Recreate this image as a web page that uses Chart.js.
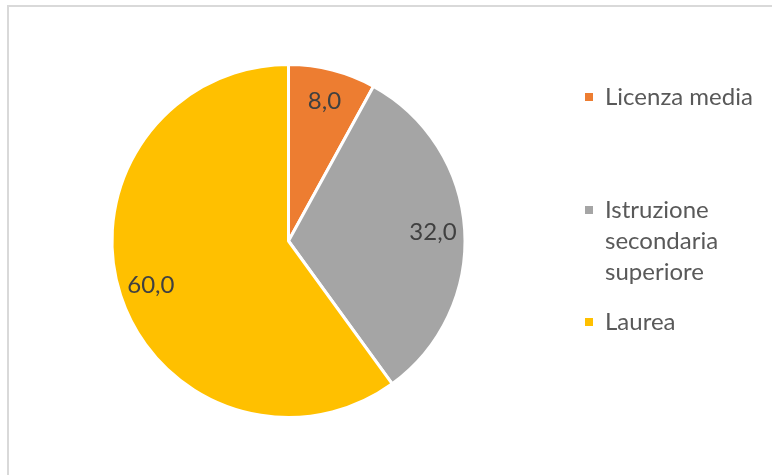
<!DOCTYPE html>
<html>
<head>
<meta charset="utf-8">
<script src="https://cdn.jsdelivr.net/npm/chart.js@4"></script>
<style>
  html, body { margin: 0; padding: 0; background: #fff; overflow: hidden; }
  #frame {
    position: absolute; left: 7px; top: 5px; width: 800px; height: 500px;
    border-left: 2px solid #d9d9d9; border-top: 2px solid #d9d9d9;
  }
  #wrap { position: absolute; left: 0; top: 0; width: 772px; height: 475px; }
</style>
</head>
<body>
<div id="frame"></div>
<div id="wrap"><canvas id="chart"></canvas></div>
<script>
const categories = ['Licenza media', 'Istruzione secondaria superiore', 'Laurea'];
const legendLines = [['Licenza media'], ['Istruzione', 'secondaria', 'superiore'], ['Laurea']];
const values = [8.0, 32.0, 60.0];
const colors = ['#ED7D31', '#A5A5A5', '#FFC000'];

const fontFamily = 'Lato, "Open Sans", sans-serif';

const formatValue = (v) => v.toFixed(1).replace('.', ',');

// data labels drawn inside each slice
const sliceLabels = {
    id: 'sliceLabels',
    afterDatasetsDraw(chart) {
        const ctx = chart.ctx;
        const meta = chart.getDatasetMeta(0);
        ctx.save();
        ctx.font = '24px ' + fontFamily;
        ctx.fillStyle = '#404040';
        ctx.textAlign = 'center';
        ctx.textBaseline = 'middle';
        meta.data.forEach((arc, i) => {
            const p = arc.getProps(['x', 'y', 'startAngle', 'endAngle', 'outerRadius']);
            const mid = (p.startAngle + p.endAngle) / 2;
            const r = p.outerRadius * 0.82;
            ctx.fillText(formatValue(values[i]), p.x + Math.cos(mid) * r, p.y + Math.sin(mid) * r);
        });
        ctx.restore();
    },
};

// legend at the right, like the spreadsheet one
const sideLegend = {
    id: 'sideLegend',
    afterDraw(chart, args, opts) {
        const ctx = chart.ctx;
        ctx.save();
        ctx.font = '24px ' + fontFamily;
        ctx.textBaseline = 'middle';
        legendLines.forEach((lines, i) => {
            const y = opts.top + opts.rows[i];
            ctx.fillStyle = colors[i];
            ctx.fillRect(opts.left, y - 4, 8, 8);
            ctx.fillStyle = '#595959';
            lines.forEach((line, j) => {
                ctx.fillText(line, opts.left + 20, y + j * opts.lineHeight);
            });
        });
        ctx.restore();
    },
};

new Chart('chart', {
    type: 'pie',
    data: {
        labels: categories,
        datasets: [{
            data: values,
            backgroundColor: colors,
            borderColor: '#ffffff',
            borderWidth: 3,
        }],
    },
    options: {
        responsive: true,
        maintainAspectRatio: false,
        animation: false,
        layout: {
            padding: { left: 110, top: 63, right: 305, bottom: 56 },
        },
        plugins: {
            legend: { display: false },
            tooltip: { enabled: false },
            sideLegend: { left: 585, top: 97, rows: [0, 113, 225], lineHeight: 31 },
        },
    },
    plugins: [sliceLabels, sideLegend],
});
</script>
</body>
</html>
